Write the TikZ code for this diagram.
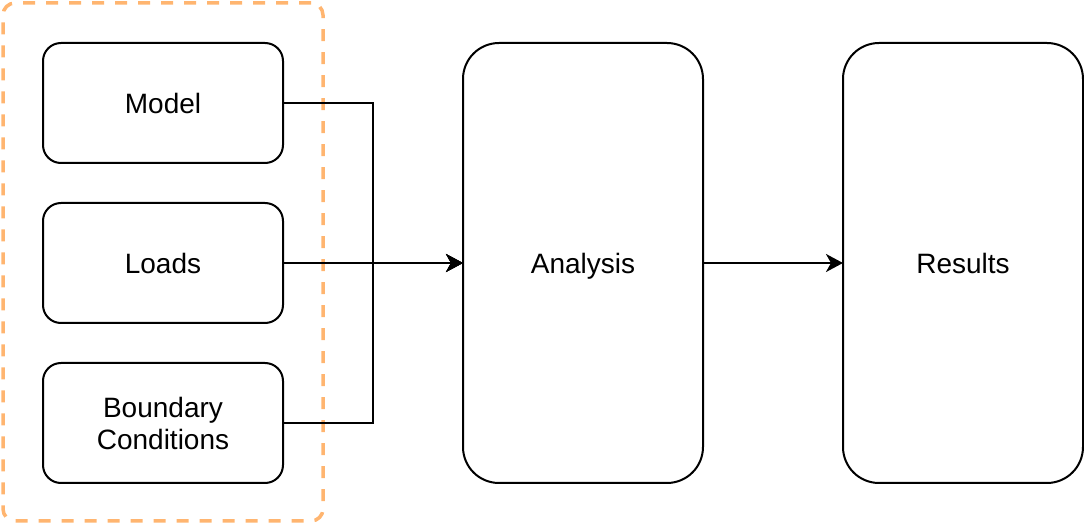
\documentclass[tikz,border=0pt]{standalone}
\usepackage{fontspec}
\setmainfont{Liberation Sans}
\usepackage{xcolor}
\usetikzlibrary{arrows.meta, positioning, fit}
\definecolor{grouporange}{HTML}{FFB570}

\begin{document}
\begin{tikzpicture}[>={Stealth[length=8.5pt, width=9pt, inset=2.5pt]},
    font=\fontsize{14pt}{16pt}\selectfont, line width=1pt,
    inbox/.style={draw, rounded corners=9pt, minimum width=120pt, minimum height=60pt, align=center, inner sep=0pt, outer sep=0pt},
    bigbox/.style={draw, rounded corners=18pt, minimum width=120pt, minimum height=220pt, inner sep=0pt, outer sep=0pt, text height=11pt, text depth=0pt}]
  \useasboundingbox (0,0) rectangle (542pt,-262pt);
  % inputs
  \node[inbox] (model) at (81.5pt,-51.5pt) {Model};
  \node[inbox, below=20pt of model] (loads) {Loads};
  \node[inbox, below=20pt of loads] (bc) {Boundary\\Conditions};
  % input group
  \node[draw=grouporange, line width=1.75pt, dash pattern=on 6pt off 5.5pt, rounded corners=6pt,
        inner xsep=20pt, inner ysep=19.5pt, yshift=0.5pt, fit=(model)(bc)] (group) {};
  % stages
  \node[bigbox, right=90pt of loads] (analysis) {Analysis};
  \node[bigbox, right=70pt of analysis] (results) {Results};
  % connectors
  \draw[->] (model.east) -- ++(45pt,0) |- (analysis.west);
  \draw[->] (loads) -- (analysis);
  \draw[->] (bc.east) -- ++(45pt,0) |- (analysis.west);
  \draw[->] (analysis) -- (results);
\end{tikzpicture}
\end{document}
